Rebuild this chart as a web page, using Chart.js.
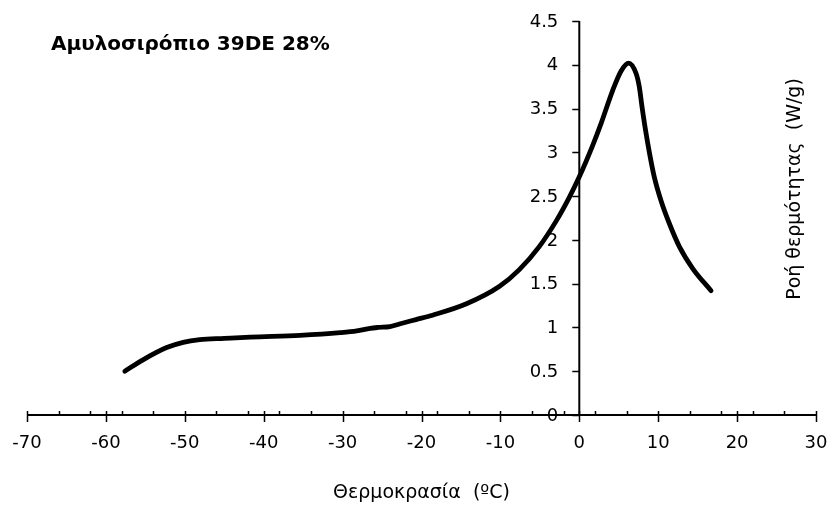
<!DOCTYPE html>
<html>
<head>
<meta charset="utf-8">
<script src="https://cdn.jsdelivr.net/npm/chart.js@4"></script>
<style>
html,body{margin:0;padding:0;background:#fff;}
#wrap{width:830px;height:506px;position:relative;}
</style>
</head>
<body>
<div id="wrap"><canvas id="c" width="830" height="506"></canvas></div>
<script>
const chartTitle = "Αμυλοσιρόπιο 39DE 28%";
const xTitle = "Θερμοκρασία  (ºC)";
const yTitle = "Ροή θερμότητας  (W/g)";
const xTickValues = [-70, -60, -50, -40, -30, -20, -10, 0, 10, 20, 30];
const yTickValues = [0, 0.5, 1, 1.5, 2, 2.5, 3, 3.5, 4, 4.5];
const temperature = [-57.6, -55.3, -52.3, -50.2, -48.1, -45, -41.7, -35.4, -30.3, -28.2, -26.5, -25.5, -24, -22.8, -20.7, -18.6, -14.3, -10.1, -7.6, -5.1, -2.9, -1.3, 0, 1.7, 2.8, 4.2, 5.3, 6.25, 7.2, 7.6, 7.95, 8.4, 8.9, 9.5, 10.35, 11.4, 12.7, 14.4, 16.7];
const heatFlow = [0.50, 0.63, 0.77, 0.83, 0.86, 0.875, 0.89, 0.91, 0.94, 0.96, 0.99, 1.00, 1.01, 1.04, 1.09, 1.14, 1.27, 1.47, 1.66, 1.92, 2.22, 2.48, 2.72, 3.08, 3.34, 3.70, 3.93, 4.02, 3.90, 3.75, 3.52, 3.25, 2.99, 2.72, 2.45, 2.19, 1.92, 1.67, 1.42];

const points = temperature.map((t, i) => ({x: t, y: heatFlow[i]}));
const FONT = "'DejaVu Sans', sans-serif";

const axesPlugin = {
  id: 'excelAxes',
  beforeDatasetsDraw(chart) {
    const {ctx, scales: {x, y}} = chart;
    const y0 = y.getPixelForValue(0);
    const x0 = x.getPixelForValue(0);
    ctx.save();
    ctx.strokeStyle = '#000';
    ctx.lineWidth = 2;
    ctx.beginPath();
    ctx.moveTo(x.getPixelForValue(-70), y0);
    ctx.lineTo(x.getPixelForValue(30), y0);
    ctx.moveTo(x0, y.getPixelForValue(0));
    ctx.lineTo(x0, y.getPixelForValue(4.5));
    ctx.stroke();
    ctx.lineWidth = 1.5;
    ctx.beginPath();
    xTickValues.forEach(v => {
      const px = Math.round(x.getPixelForValue(v)) + 0.5;
      ctx.moveTo(px, y0 - 4);
      ctx.lineTo(px, y0 + 7);
    });
    for (let v = -70; v <= 30; v += 4) {
      if (xTickValues.includes(v)) continue;
      const px = Math.round(x.getPixelForValue(v)) + 0.5;
      ctx.moveTo(px, y0 - 4);
      ctx.lineTo(px, y0);
    }
    yTickValues.forEach(v => {
      const py = Math.round(y.getPixelForValue(v)) + 0.5;
      ctx.moveTo(x0 - 7, py);
      ctx.lineTo(x0, py);
    });
    ctx.stroke();
    // y tick labels
    ctx.fillStyle = '#000';
    ctx.font = "18px " + FONT;
    ctx.textAlign = 'right';
    ctx.textBaseline = 'middle';
    yTickValues.forEach(v => {
      ctx.fillText(String(v), x0 - 21, y.getPixelForValue(v) + 1);
    });
    ctx.restore();
  },
  afterDraw(chart) {
    const {ctx, scales: {x, y}} = chart;
    ctx.save();
    ctx.fillStyle = '#000';
    ctx.font = "bold 20px " + FONT;
    ctx.textAlign = 'left';
    ctx.textBaseline = 'alphabetic';
    ctx.fillText(chartTitle, 51, 50);
    ctx.font = "19px " + FONT;
    ctx.textAlign = 'center';
    ctx.textBaseline = 'middle';
    ctx.fillText(xTitle, (x.getPixelForValue(-70) + x.getPixelForValue(30)) / 2, 493);
    ctx.translate(795, 189);
    ctx.rotate(-Math.PI / 2);
    ctx.fillText(yTitle, 0, 0);
    ctx.restore();
  }
};

new Chart(document.getElementById('c'), {
  type: 'scatter',
  data: {
    datasets: [{
      data: points,
      showLine: true,
      borderColor: '#000',
      borderWidth: 4.8,
      pointRadius: 0,
      fill: false,
      cubicInterpolationMode: 'monotone',
      borderCapStyle: 'round',
      borderJoinStyle: 'round'
    }]
  },
  plugins: [axesPlugin],
  options: {
    responsive: false,
    animation: false,
    layout: {padding: {left: 27, right: 14, top: 21, bottom: 91}},
    plugins: {legend: {display: false}, tooltip: {enabled: false}, title: {display: false}},
    scales: {
      x: {
        type: 'linear',
        position: {y: 0},
        min: -70, max: 30,
        afterBuildTicks: s => { s.ticks = xTickValues.map(v => ({value: v})); },
        grid: {display: false, drawTicks: true, tickLength: 18},
        border: {display: false},
        ticks: {color: '#000', padding: 0, maxRotation: 0, autoSkip: false, font: {family: FONT, size: 18}}
      },
      y: {
        type: 'linear',
        position: {x: 0},
        min: 0, max: 4.5,
        afterBuildTicks: s => { s.ticks = yTickValues.map(v => ({value: v})); },
        grid: {display: false, drawTicks: false},
        border: {display: false},
        ticks: {display: false, padding: 0}
      }
    }
  }
});
</script>
</body>
</html>
